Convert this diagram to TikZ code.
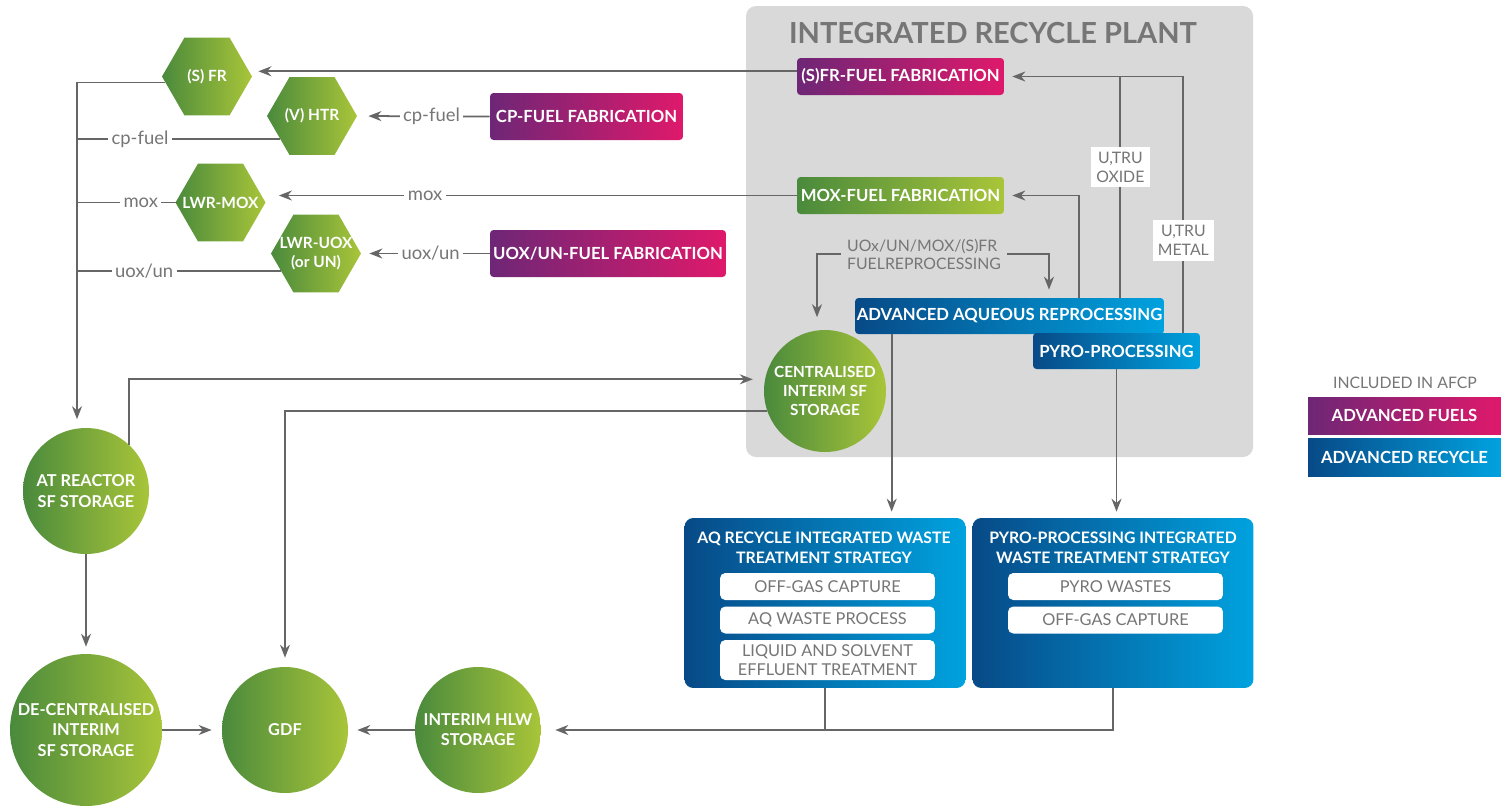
\documentclass[tikz,border=0pt]{standalone}
\usepackage{fontspec}
\setmainfont{Lato}
\usetikzlibrary{shapes.geometric,arrows.meta}
\definecolor{grn1}{HTML}{4A8A3C}
\definecolor{grn2}{HTML}{A9C539}
\definecolor{pur1}{HTML}{6E2676}
\definecolor{pur2}{HTML}{DF196B}
\definecolor{blu1}{HTML}{074A87}
\definecolor{blu2}{HTML}{00A2DF}
\definecolor{panel}{HTML}{D9D9D9}
\definecolor{ln}{HTML}{666666}
\definecolor{txt}{HTML}{767676}
\begin{document}
\begin{tikzpicture}[x=0.02cm,y=-0.02cm,>={Stealth[length=.26cm,width=.2cm]},font=\fontsize{9}{10.5}\selectfont]
	\tikzset{hexa/.style={regular polygon,regular polygon sides=6,minimum size=1.8cm,inner sep=0pt,
			left color=grn1,right color=grn2,label={[hxt]center:#1}},
		hxt/.style={text=white,align=center,inner sep=0pt,font=\fontsize{8.8}{10.8}\selectfont\bfseries},
		disc/.style={circle,inner sep=0pt,left color=grn1,right color=grn2,text=white,align=center,
			font=\fontsize{9.3}{11.5}\selectfont\bfseries},
		fab/.style={rounded corners=2pt,inner sep=0pt,minimum height=.74cm,text=white,
			font=\fontsize{9.5}{11}\selectfont\bfseries},
		fuel/.style={fab,left color=pur1,right color=pur2},
		moxc/.style={fab,left color=grn1,right color=grn2},
		rcy/.style={fab,left color=blu1,right color=blu2},
		waste/.style={rounded corners=5pt,left color=blu1,right color=blu2,minimum width=5.62cm,
			minimum height=3.4cm,inner sep=0pt},
		wtitle/.style={text=white,align=center,font=\fontsize{9}{11.3}\selectfont\bfseries},
		wbox/.style={fill=white,rounded corners=3pt,minimum width=4.3cm,minimum height=.54cm,inner sep=0pt,
			text=txt,align=center,font=\fontsize{9.3}{10.8}\selectfont},
		lbl/.style={fill=white,text=txt,inner sep=2pt,font=\fontsize{10.5}{12}\selectfont},
		tag/.style={fill=white,text=txt,inner sep=3pt,align=center,font=\fontsize{9}{10.5}\selectfont},
		flow/.style={draw=ln,line width=1pt}}
	\useasboundingbox (0,0) rectangle (1501,806);
	\fill[panel,rounded corners=.2cm] (746,6) rectangle (1253,457);
	\node[text=txt,font=\fontsize{16.5}{18}\selectfont\bfseries] (plant) at (993,33) {INTEGRATED RECYCLE PLANT};
	% fabrication and recycle boxes
	\node[fuel,minimum width=4.14cm] (sfrfab) at (900.5,76.5) {(S)FR-FUEL FABRICATION};
	\node[moxc,minimum width=4.14cm] (moxfab) at (900.5,195.5) {MOX-FUEL FABRICATION};
	\node[fuel,minimum width=3.86cm,minimum height=.94cm] (cpfab) at (586.5,116.5) {CP-FUEL FABRICATION};
	\node[fuel,minimum width=4.72cm,minimum height=.94cm] (uoxfab) at (608,253.5) {UOX/UN-FUEL FABRICATION};
	\node[rcy,minimum width=6.18cm,minimum height=.72cm] (aq) at (1009.5,316) {ADVANCED AQUEOUS REPROCESSING};
	\node[rcy,minimum width=3.34cm,minimum height=.72cm] (pyro) at (1116.5,351) {PYRO-PROCESSING};
	\node[text=txt,align=left,font=\fontsize{9}{10.2}\selectfont] (reproc) at (924,254) {UOx/UN/MOX/(S)FR\\FUELREPROCESSING};
	% reactors
	\node[hexa={(S) FR}] (sfr) at (207,76.5) {};
	\node[hexa={(V) HTR}] (htr) at (312,116) {};
	\node[hexa={LWR-MOX}] (lwrmox) at (220.5,202.5) {};
	\node[hexa={LWR-UOX\\(or UN)}] (lwruox) at (316,253.5) {};
	% storage
	\node[disc,minimum size=2.52cm] (arstore) at (86,491) {AT REACTOR\\SF STORAGE};
	\node[disc,minimum size=3.04cm] (decentr) at (86,730) {DE-CENTRALISED\\INTERIM\\SF STORAGE};
	\node[disc,minimum size=2.52cm] (gdf) at (285,730) {GDF};
	\node[disc,minimum size=2.52cm] (hlw) at (478,730) {INTERIM HLW\\STORAGE};
	\node[disc,minimum size=2.44cm,font=\fontsize{8.7}{11}\selectfont\bfseries] (centr) at (825,391)
		{CENTRALISED\\INTERIM SF\\STORAGE};
	% waste treatment
	\node[waste] (aqw) at (825,603) {};
	\node[waste] (pyrow) at (1113,603) {};
	\node[wtitle] (aqt) at (824,548) {AQ RECYCLE INTEGRATED WASTE\\TREATMENT STRATEGY};
	\node[wtitle] (pyt) at (1113,548) {PYRO-PROCESSING INTEGRATED\\WASTE TREATMENT STRATEGY};
	\node[wbox] (aq1) at (827.5,586.5) {OFF-GAS CAPTURE};
	\node[wbox] (aq2) at (827.5,620) {AQ WASTE PROCESS};
	\node[wbox,minimum height=.8cm] (aq3) at (827.5,660) {LIQUID AND SOLVENT\\EFFLUENT TREATMENT};
	\node[wbox] (py1) at (1115.5,586.5) {PYRO WASTES};
	\node[wbox] (py2) at (1115.5,620) {OFF-GAS CAPTURE};
	% legend
	\node[text=txt] (inc) at (1405,383) {INCLUDED IN AFCP};
	\node[fuel,sharp corners,minimum width=3.86cm] (legf) at (1404.5,415.5) {ADVANCED FUELS};
	\node[rcy,sharp corners,minimum width=3.86cm,minimum height=.76cm] (legr) at (1404.5,457) {ADVANCED RECYCLE};
	% reactor feeds
	\coordinate (bus) at (77,82);
	\draw[flow,->,shorten >=.17cm] (sfr.188) -| (bus |- arstore.north);
	\draw[flow] (htr.216) -- node[lbl,pos=.69]{cp-fuel} (bus |- htr.216);
	\draw[flow] (lwrmox.west) -- node[lbl,pos=.35]{mox} (bus |- lwrmox.west);
	\draw[flow] (lwruox.206) -- node[lbl,pos=.67]{uox/un} (bus |- lwruox.206);
	\draw[flow,->,shorten >=.18cm] (sfr.7 -| sfrfab.west) -- (sfr.7);
	\draw[flow,->,shorten >=.22cm] (cpfab.west) -- node[lbl,pos=.44]{cp-fuel} (htr.east);
	\draw[flow,->,shorten >=.26cm] (moxfab.west) -- node[lbl,pos=.70]{mox} (lwrmox.east |- moxfab.west);
	\draw[flow,->,shorten >=.16cm] (uoxfab.west) -- node[lbl,pos=.46]{uox/un} (lwruox.east);
	% recycle plant
	\coordinate (oxide) at ([xshift=-.88cm]aq.north east);
	\coordinate (metal) at ([xshift=-.34cm]pyro.north east);
	\coordinate (moxout) at ([xshift=-1.7cm]aq.north east);
	\coordinate (aqout) at ([xshift=.74cm]aq.south west);
	\draw[flow,->,shorten >=.16cm] (metal) |- node[tag,pos=.18]{U,TRU\\METAL} (sfrfab.east);
	\draw[flow] (oxide) -- node[tag,pos=.59]{U,TRU\\OXIDE} (oxide |- sfrfab.east);
	\draw[flow,->,shorten >=.16cm] (moxout) |- (moxfab.east);
	\draw[flow,->,shorten >=.25cm] (reproc.west) -| ([xshift=-.16cm]centr.north);
	\draw[flow,->,shorten >=.16cm] (reproc.east) -| ([xshift=.79cm]aq.north);
	\draw[flow,->,shorten >=.12cm] (aqout) -- (aqout |- aqw.north);
	\draw[flow,->,shorten >=.12cm] (pyro.south) -- (pyro.south |- pyrow.north);
	% storage routes
	\draw[flow,->,shorten >=.24cm] (arstore.47) |- (centr.169);
	\draw[flow,->,shorten >=.18cm] (centr.199) -| (gdf.north);
	\draw[flow,->,shorten >=.14cm] (arstore.south) -- (decentr.north);
	\draw[flow,->,shorten >=.2cm] (decentr.east) -- (gdf.west);
	\draw[flow,->,shorten >=.18cm] (hlw.west) -- (gdf.east);
	\draw[flow,->,shorten >=.28cm] (pyrow.south) |- (hlw.east);
	\draw[flow] (aqw.south) -- (aqw.south |- hlw.east);
\end{tikzpicture}
\end{document}
